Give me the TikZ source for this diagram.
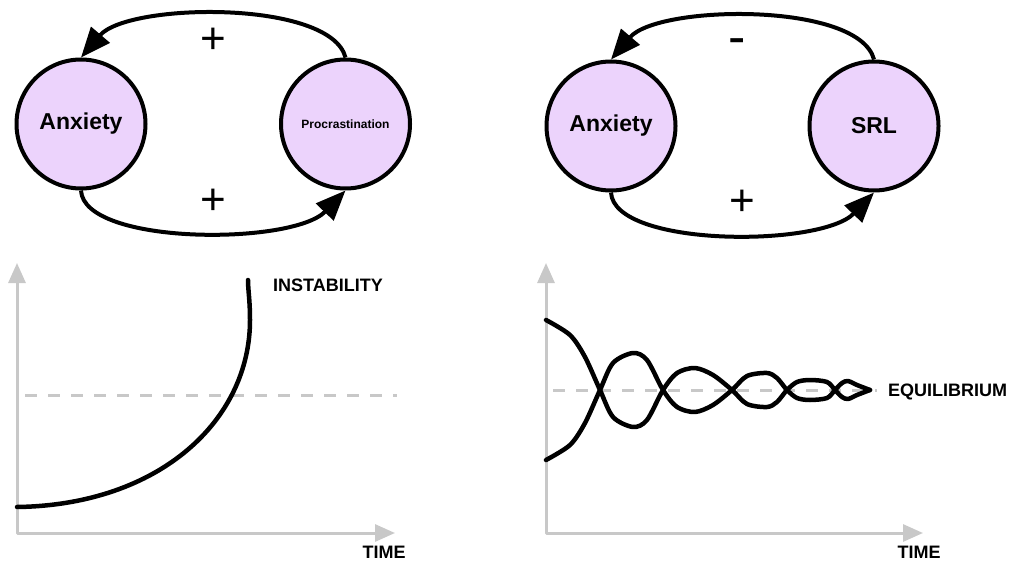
\documentclass[tikz,border=0pt]{standalone}
\usepackage{fontspec}
\setmainfont{Liberation Sans}
\usetikzlibrary{arrows.meta}

\definecolor{bubble}{RGB}{236,211,252}
\definecolor{axisgray}{RGB}{200,200,200}

\tikzset{
  state/.style = {circle, draw, line width = 4pt, fill = bubble,
    minimum size = 129pt, inner sep = 0pt,
    font = \bfseries\fontsize{23}{23}\selectfont},
  feedback/.style = {line width = 4pt, -{Triangle[length = 30pt, width = 24pt]}},
  sign/.style = {inner sep = 0pt, font = \fontsize{44}{44}\selectfont},
  axis/.style = {axisgray, line width = 3pt,
    {Triangle[length = 20pt, width = 17pt]}-{Triangle[length = 20pt, width = 17pt]}},
  eqline/.style = {axisgray, line width = 3pt, dash pattern = on 12pt off 11pt},
  trend/.style = {line width = 4.5pt, line cap = round},
  caption/.style = {inner sep = 0pt, font = \bfseries\fontsize{18}{18}\selectfont}
}

\begin{document}
\begin{tikzpicture}
        [x = 1pt, y = -1pt, line join = round]

        \useasboundingbox (0,0) rectangle (1011,561);

        % positive loop
        \node[state] (anx1) at (81,124) {Anxiety};
        \node[state, font = \bfseries\fontsize{12}{12}\selectfont] (proc) at (345.5,124) {Procrastination};
        \draw[feedback] (proc.north) .. controls +(-15,-58) and +(47,-55) .. (anx1.north);
        \draw[feedback] (anx1.south) .. controls +(3,55) and +(-53,55) .. (proc.south);
        \node[sign] (plus1) at (213,41) {+};
        \node[sign] (plus2) at (213,202) {+};

        % negative loop
        \node[state] (anx2) at (611,126) {Anxiety};
        \node[state] (srl) at (874,126) {SRL};
        \draw[feedback] (srl.north) .. controls +(-15,-58) and +(47,-55) .. (anx2.north);
        \draw[feedback] (anx2.south) .. controls +(3,55) and +(-53,55) .. (srl.south);
        \node[sign, font = \fontsize{52}{52}\selectfont] (minus) at (737,47) {-};
        \node[sign] (plus3) at (742,203) {+};

        % instability
        \draw[axis] (17,263) -- (17,533) -- (395,533);
        \draw[eqline] (25,395) -- (397,395);
        \draw[trend] (17,507) .. controls (160,505) and (250,420) .. (250,320)
          .. controls (250,300) and (248,290) .. (248,280);
        \node[caption, anchor = west] (unstable) at (273,285) {INSTABILITY};
        \node[caption] (time1) at (384,552) {TIME};

        % equilibrium
        \draw[axis] (546,263) -- (546,533) -- (923,533);
        \draw[eqline] (553,390) -- (877,390);
        \foreach \s in {1,-1}
          \draw[trend, shift = {(0,390)}, yscale = \s] plot[smooth] coordinates
            {(546,-70) (570,-55) (585,-33) (600,0) (613,27) (633,37) (647,30)
             (663,0) (677,-17) (695,-22) (713,-15) (732,0) (747,14) (767,17)
             (777,12) (787,0) (797,-8) (810,-10) (827,-8) (835,0) (842,7)
             (848,9) (857,5) (870,0)};
        \node[caption, anchor = west] (stable) at (888,392) {EQUILIBRIUM};
        \node[caption] (time2) at (919,552) {TIME};
      \end{tikzpicture}
\end{document}
